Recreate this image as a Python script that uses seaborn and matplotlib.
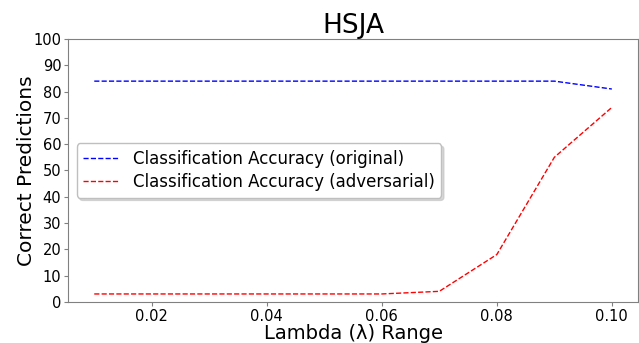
import numpy as np
import pandas as pd
import matplotlib
matplotlib.use("Agg")
import matplotlib.pyplot as plt
import seaborn as sns

# data
lambdas = [0.01, 0.02, 0.03, 0.04, 0.05, 0.06, 0.07, 0.08, 0.09, 0.10]
acc_original = [84, 84, 84, 84, 84, 84, 84, 84, 84, 81]
acc_adversarial = [3, 3, 3, 3, 3, 3, 4, 18, 55, 74]

sns.set_style("ticks")
plt.rcParams['font.family'] = ['DejaVu Sans']
plt.rcParams['text.color'] = 'black'
plt.rcParams['axes.labelcolor'] = 'black'

df = pd.DataFrame({
    'lambda': lambdas * 2,
    'acc': acc_original + acc_adversarial,
    'series': ['Classification Accuracy (original)'] * len(lambdas)
              + ['Classification Accuracy (adversarial)'] * len(lambdas),
})

fig, ax = plt.subplots(figsize=(6.39, 3.43), dpi=100)
sns.lineplot(data=df, x='lambda', y='acc', hue='series',
             palette=['blue', 'red'], linestyle='--', linewidth=1, ax=ax)

ax.set_ylim(0, 100)
ax.set_yticks(np.arange(0, 101, 10))
ax.set_xticks([0.02, 0.04, 0.06, 0.08, 0.10])
ax.set_xticklabels(['0.02', '0.04', '0.06', '0.08', '0.10'])
ax.tick_params(labelsize=10.5, colors='black', length=3, pad=2)
ax.tick_params(axis='both', color='gray')
for s in ax.spines.values():
    s.set_color('gray')

ax.set_title('HSJA', fontsize=19, pad=3, color='black')
ax.set_xlabel('Lambda (λ) Range', fontsize=14, labelpad=0)
ax.set_ylabel('Correct Predictions', fontsize=14.5, labelpad=-2)

handles, labels = ax.get_legend_handles_labels()
for h in handles:
    h.set_linestyle('--')
leg = ax.legend(handles, labels, loc='center left', bbox_to_anchor=(0.0, 0.5),
                fontsize=12, frameon=True, fancybox=True,
                shadow={'color': '0.75', 'alpha': 0.6}, handlelength=2.1,
                handletextpad=0.85, labelspacing=0.3, borderpad=0.4)
leg.get_frame().set_edgecolor('0.75')
for t in leg.get_texts():
    t.set_color('black')

plt.subplots_adjust(left=0.107, right=0.998, top=0.886, bottom=0.12)
plt.savefig('out.png', dpi=100)
